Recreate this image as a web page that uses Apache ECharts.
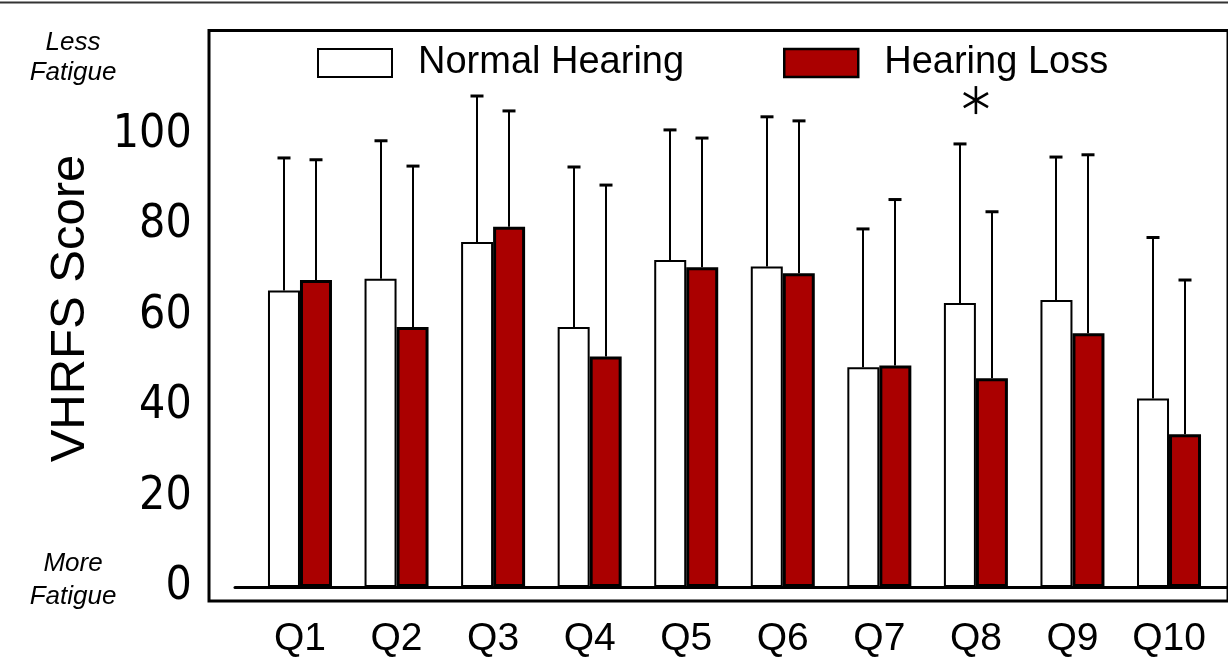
<!DOCTYPE html>
<html><head><meta charset="utf-8">
<script src="https://cdn.jsdelivr.net/npm/echarts@6/dist/echarts.min.js"></script>
<style>html,body{margin:0;padding:0;background:#fff;}#c{width:1228px;height:661px;}</style>
</head><body><div id="c"></div>
<script>
const categories = ['Q1','Q2','Q3','Q4','Q5','Q6','Q7','Q8','Q9','Q10'];
const normalMean = [65.6, 68.2, 76.3, 57.5, 72.3, 70.9, 48.6, 62.8, 63.5, 41.7];
const normalSD   = [29.3, 30.5, 32.3, 35.4, 28.8, 33.1, 30.6, 35.2, 31.6, 35.6];
const lossMean   = [67.9, 57.5, 79.7, 51.0, 70.7, 69.4, 49.0, 46.2, 56.1, 33.8];
const lossSD     = [26.6, 35.6, 25.6, 37.9, 28.6, 33.7, 36.7, 36.8, 39.5, 34.1];
const yTickLabels = ['0','20','40','60','80','100'];
const significantCategory = 'Q8';
const significantMarkValue = 107.7;
const seriesNames = ['Normal Hearing', 'Hearing Loss'];

const BAR_W = 32;
const FONT = "'Liberation Sans', Arial, sans-serif";
const NARROW = "'Liberation Sans Narrow', 'DejaVu Sans Condensed', 'Liberation Sans', sans-serif";

function errSeries(means, sds, side) {
  return {
    type: 'custom', xAxisIndex: 0, yAxisIndex: 0, z: 3, silent: true,
    encode: { x: 0, y: [1, 2] },
    data: means.map((m, i) => [i, m, m + sds[i]]),
    renderItem(params, api) {
      const i = api.value(0);
      const base = api.coord([i, api.value(1)]);
      const top = api.coord([i, api.value(2)]);
      const x = Math.round(base[0] + side * BAR_W / 2);
      return { type: 'group', children: [
        { type: 'line', shape: { x1: x, y1: base[1], x2: x, y2: top[1] }, style: { stroke: '#000', lineWidth: 2 } },
        { type: 'line', shape: { x1: x - 6.5, y1: top[1], x2: x + 6.5, y2: top[1] }, style: { stroke: '#000', lineWidth: 3 } }
      ]};
    }
  };
}

const chart = echarts.init(document.getElementById('c'), null, { renderer: 'canvas' });
chart.setOption({
  backgroundColor: '#fff',
  animation: false,
  grid: [
    { left: 251.7, right: 10.7, top: 30, bottom: 74, show: false },
    { left: 209, right: -40, top: 30.5, bottom: 60, show: true, borderColor: '#000', borderWidth: 3, backgroundColor: 'transparent' },
    { left: 235, right: -40, top: 30, bottom: 74, show: false }
  ],
  legend: [
    { data: [seriesNames[0]], left: 317, top: 44, padding: 0, itemWidth: 74, itemHeight: 28,
      icon: 'rect', itemStyle: { color: '#fff', borderColor: '#000', borderWidth: 2 },
      textStyle: { fontFamily: FONT, fontSize: 38, color: '#000', padding: [0, 0, 0, 21] } },
    { data: [seriesNames[1]], left: 783, top: 44, padding: 0, itemWidth: 74, itemHeight: 28,
      icon: 'rect', itemStyle: { color: '#AA0000', borderColor: '#000', borderWidth: 2.5 },
      textStyle: { fontFamily: FONT, fontSize: 38, color: '#000', padding: [0, 0, 0, 21] } }
  ],
  xAxis: [
    { type: 'category', gridIndex: 0, data: categories,
      axisLine: { show: false }, axisTick: { show: false },
      axisLabel: { fontFamily: FONT, fontSize: 39, color: '#000', margin: 33 } },
    { type: 'value', gridIndex: 1, show: false, min: 0, max: 1 },
    { type: 'value', gridIndex: 2, min: 0, max: 1, axisLine: { show: true, onZero: false, lineStyle: { color: '#000', width: 3 } },
      axisTick: { show: false }, axisLabel: { show: false }, splitLine: { show: false } }
  ],
  yAxis: [
    { type: 'value', gridIndex: 0, min: 0, max: 123.2, interval: 20,
      axisLine: { show: false }, axisTick: { show: false }, splitLine: { show: false },
      axisLabel: { fontFamily: NARROW, fontSize: 46, color: '#000', margin: 60,
        formatter: v => { const s = String(v); return yTickLabels.indexOf(s) >= 0 ? s : ''; } },
      name: 'VHRFS Score', nameLocation: 'middle', nameGap: 157,
      nameTextStyle: { fontFamily: FONT, fontSize: 49, color: '#000' } },
    { type: 'value', gridIndex: 1, show: false, min: 0, max: 1 },
    { type: 'value', gridIndex: 2, show: false, min: 0, max: 1 }
  ],
  series: [
    { name: seriesNames[0], type: 'bar', xAxisIndex: 0, yAxisIndex: 0, data: normalMean,
      barWidth: BAR_W, barGap: '0%', z: 2,
      itemStyle: { color: '#fff', borderColor: '#000', borderWidth: 2 } },
    { name: seriesNames[1], type: 'bar', xAxisIndex: 0, yAxisIndex: 0, data: lossMean,
      barWidth: BAR_W, barGap: '0%', z: 2,
      itemStyle: { color: '#AA0000', borderColor: '#000', borderWidth: 3 } },
    errSeries(normalMean, normalSD, -1),
    errSeries(lossMean, lossSD, 1),
    { type: 'custom', xAxisIndex: 0, yAxisIndex: 0, z: 4, silent: true,
      data: [[categories.indexOf(significantCategory), significantMarkValue]],
      renderItem(params, api) {
        const p = api.coord([api.value(0), api.value(1)]);
        const r = 14;
        const ch = [];
        [90, 30, -30].forEach(a => {
          const t = a * Math.PI / 180;
          const dx = r * Math.cos(t), dy = r * Math.sin(t);
          ch.push({ type: 'line', shape: { x1: p[0] - dx, y1: p[1] - dy, x2: p[0] + dx, y2: p[1] + dy },
            style: { stroke: '#000', lineWidth: 2.6 } });
        });
        return { type: 'group', children: ch };
      } }
  ],
  graphic: [
    { type: 'line', shape: { x1: 0, y1: 2.5, x2: 1228, y2: 2.5 }, style: { stroke: '#333', lineWidth: 2 } },
    { type: 'text', x: 73, y: 43, style: { text: 'Less', fontFamily: FONT, fontStyle: 'italic', fontSize: 26, fill: '#000', align: 'center', verticalAlign: 'middle' } },
    { type: 'text', x: 73, y: 73, style: { text: 'Fatigue', fontFamily: FONT, fontStyle: 'italic', fontSize: 26, fill: '#000', align: 'center', verticalAlign: 'middle' } },
    { type: 'text', x: 73, y: 564, style: { text: 'More', fontFamily: FONT, fontStyle: 'italic', fontSize: 26, fill: '#000', align: 'center', verticalAlign: 'middle' } },
    { type: 'text', x: 73, y: 597, style: { text: 'Fatigue', fontFamily: FONT, fontStyle: 'italic', fontSize: 26, fill: '#000', align: 'center', verticalAlign: 'middle' } }
  ]
});
</script>
</body></html>
